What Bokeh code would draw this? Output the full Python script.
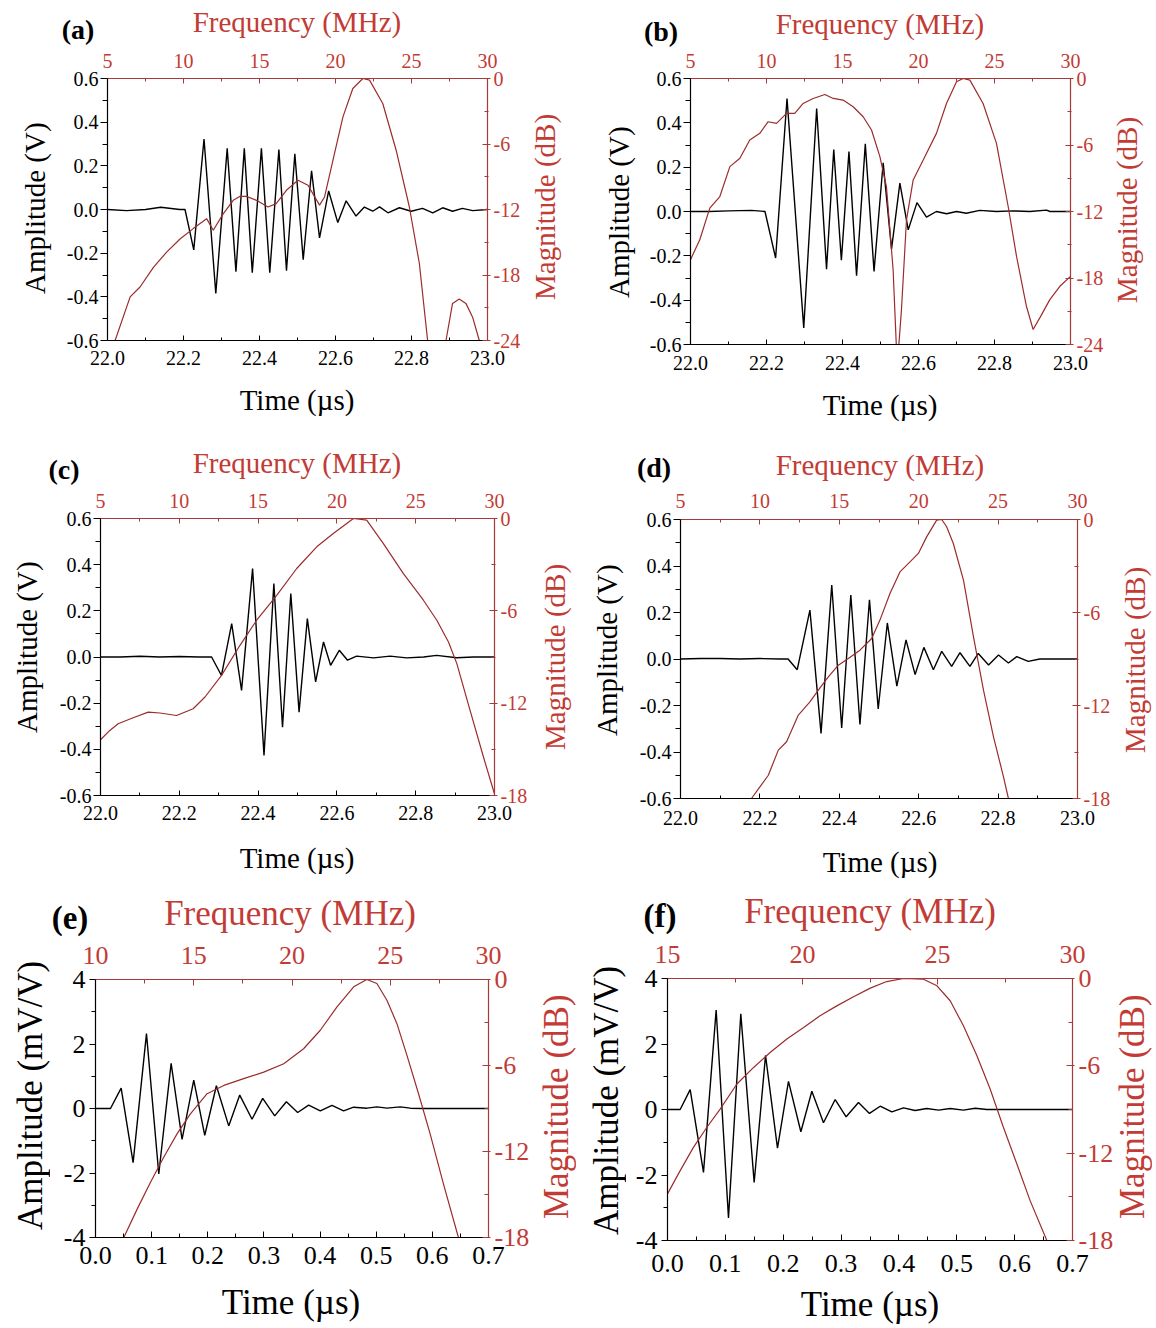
from bokeh.plotting import figure
from bokeh.models import Range1d, LinearAxis, FixedTicker, PrintfTickFormatter, Div, GridBox
from bokeh.layouts import column, row
from bokeh.embed import file_html
from bokeh.resources import INLINE

FONT = "Liberation Serif"
RED_TXT = "#c23b35"
RED_AX = "#a63a3a"
RED_LN = "#9b2c2c"

# ---------------- tick values ----------------
t_ticks_us = [22.0, 22.2, 22.4, 22.6, 22.8, 23.0]
t_minor_us = [22.1, 22.3, 22.5, 22.7, 22.9]
amp_ticks_v = [-0.6, -0.4, -0.2, 0.0, 0.2, 0.4, 0.6]
amp_minor_v = [-0.5, -0.3, -0.1, 0.1, 0.3, 0.5]
f_ticks_5_30 = [5, 10, 15, 20, 25, 30]
f_minor_5_30 = [7.5, 12.5, 17.5, 22.5, 27.5]
f_ticks_10_30 = [10, 15, 20, 25, 30]
f_minor_10_30 = [12.5, 17.5, 22.5, 27.5]
f_ticks_15_30 = [15, 20, 25, 30]
f_minor_15_30 = [17.5, 22.5, 27.5]
db_ticks_24 = [-24, -18, -12, -6, 0]
db_minor_24 = [-21, -15, -9, -3]
db_ticks_18 = [-18, -12, -6, 0]
db_minor_18 = [-15, -9, -3]
t_ticks_07 = [0.0, 0.1, 0.2, 0.3, 0.4, 0.5, 0.6, 0.7]
t_minor_07 = [0.05, 0.15, 0.25, 0.35, 0.45, 0.55, 0.65]
amp_ticks_mv = [-4, -2, 0, 2, 4]
amp_minor_mv = [-3, -1, 1, 3]

# ---------------- panel (a) ----------------
a_t = [22.0, 22.05, 22.1, 22.14, 22.19, 22.204, 22.227, 22.254, 22.285, 22.315, 22.338, 22.360,
       22.381, 22.405, 22.427, 22.451, 22.471, 22.493, 22.515, 22.537, 22.558, 22.582, 22.606,
       22.628, 22.654, 22.676, 22.698, 22.716, 22.738, 22.768, 22.799, 22.829, 22.856, 22.882,
       22.908, 22.934, 22.961, 23.0]
a_v = [0.0, -0.005, 0.0, 0.01, 0.0, 0.0, -0.185, 0.323, -0.385, 0.28, -0.285, 0.28,
       -0.29, 0.28, -0.29, 0.275, -0.28, 0.255, -0.23, 0.177, -0.13, 0.085, -0.06,
       0.04, -0.03, 0.011, -0.008, 0.012, -0.015, 0.008, -0.008, 0.005, -0.015, 0.008,
       -0.008, 0.005, -0.005, 0.0]
a_f = [5.5, 6.49, 7.14, 8.02, 8.89, 9.77, 10.64, 11.52, 11.96, 12.61, 13.27, 13.7, 14.14, 14.8,
       15.56, 16.1, 16.77, 17.53, 18.19, 18.95, 19.28, 19.83, 20.49, 21.14, 21.8, 22.24, 23.11,
       23.99, 24.86, 25.52, 26.06, 26.6, 27.27, 27.7, 28.14, 28.58, 29.02, 29.46]
a_db = [-24, -20.0, -19.1, -17.3, -15.9, -14.7, -13.75, -12.84, -13.9, -12.4, -11.16, -10.8, -10.8,
        -11.16, -11.77, -11.46, -10.24, -9.32, -9.78, -11.6, -10.85, -7.49, -3.52, -0.92, 0.0,
        -0.15, -2.29, -6.57, -11.77, -16.97, -24, -40, -24, -20.6, -20.2, -20.6, -21.86, -24]

# ---------------- panel (b) ----------------
b_t = [22.0, 22.05, 22.1, 22.16, 22.196, 22.224, 22.254, 22.298, 22.332, 22.358, 22.377, 22.397,
       22.417, 22.437, 22.46, 22.483, 22.507, 22.529, 22.551, 22.573, 22.596, 22.621, 22.647,
       22.674, 22.7, 22.726, 22.761, 22.805, 22.849, 22.893, 22.937, 22.946, 23.0]
b_v = [0.0, 0.0, 0.003, 0.005, 0.0, -0.21, 0.51, -0.525, 0.465, -0.26, 0.28, -0.22,
       0.27, -0.29, 0.305, -0.27, 0.22, -0.17, 0.128, -0.083, 0.04, -0.025, 0.0,
       -0.01, 0.0, -0.008, 0.005, 0.0, 0.003, 0.0, 0.006, 0.0, 0.0]
b_f = [5.0, 5.61, 6.27, 6.93, 7.59, 8.25, 8.9, 9.56, 10.11, 10.66, 11.32, 11.86, 12.41, 13.07,
       13.84, 14.39, 15.04, 15.7, 16.36, 16.91, 17.46, 17.89, 18.33, 18.6, 18.88, 19.21, 19.65,
       20.31, 21.18, 21.84, 22.5, 22.94, 23.38, 24.25, 25.13, 25.9, 26.45, 27.1, 27.54, 27.98,
       28.64, 29.3, 30.0]
b_db = [-16.35, -14.55, -11.7, -10.65, -7.95, -7.2, -5.55, -4.95, -3.9, -4.05, -3.15, -3.15,
        -2.25, -1.8, -1.44, -1.8, -1.95, -2.55, -3.45, -4.65, -7.05, -9.75, -17.25, -26.0,
        -20.85, -12.75, -9.15, -7.35, -4.95, -2.25, -0.3, 0.0, -0.15, -2.25, -5.85, -11.55,
        -16.05, -20.55, -22.65, -21.6, -19.95, -18.75, -17.85]

# ---------------- panel (c) ----------------
c_t = [22.0, 22.05, 22.1, 22.15, 22.2, 22.25, 22.282, 22.307, 22.333, 22.358, 22.386, 22.415,
       22.44, 22.462, 22.483, 22.504, 22.525, 22.546, 22.566, 22.584, 22.606, 22.627, 22.65,
       22.693, 22.735, 22.777, 22.82, 22.853, 22.904, 22.947, 23.0]
c_v = [0.0, 0.0, 0.003, 0.0, 0.002, 0.0, 0.0, -0.08, 0.145, -0.145, 0.383, -0.426,
       0.318, -0.304, 0.275, -0.239, 0.166, -0.108, 0.065, -0.036, 0.029, -0.014, 0.004,
       -0.004, 0.004, -0.004, 0.0, 0.007, -0.003, 0.0, 0.0]
c_f = [5.0, 5.59, 6.12, 7.07, 8.03, 8.77, 9.83, 10.88, 11.63, 12.68, 13.85, 14.91, 16.18, 17.45,
       18.72, 19.77, 21.05, 21.89, 22.95, 24.22, 25.49, 26.34, 27.08, 27.61, 28.45, 29.3, 30.0]
c_db = [-14.38, -13.77, -13.34, -12.95, -12.58, -12.64, -12.8, -12.36, -11.6, -10.19, -8.24,
        -6.61, -4.99, -3.25, -1.84, -0.98, 0.0, -0.11, -1.63, -3.58, -5.31, -6.61, -8.02,
        -9.43, -12.47, -15.5, -17.9]

# ---------------- panel (d) ----------------
d_t = [22.0, 22.05, 22.1, 22.15, 22.2, 22.25, 22.271, 22.294, 22.326, 22.354, 22.381, 22.406,
       22.429, 22.452, 22.476, 22.498, 22.521, 22.545, 22.568, 22.591, 22.613, 22.637, 22.658,
       22.683, 22.704, 22.729, 22.75, 22.776, 22.801, 22.826, 22.847, 22.876, 22.905, 22.948, 23.0]
d_v = [0.0, 0.002, 0.002, 0.0, 0.002, 0.0, 0.0, -0.046, 0.21, -0.32, 0.318, -0.297,
       0.275, -0.282, 0.255, -0.215, 0.155, -0.117, 0.082, -0.067, 0.05, -0.046, 0.033,
       -0.032, 0.027, -0.032, 0.024, -0.026, 0.017, -0.017, 0.01, -0.01, 0.0, 0.0, 0.0]
d_f = [9.47, 10.0, 10.53, 11.16, 11.68, 12.42, 13.15, 13.68, 14.31, 14.94, 15.57, 16.3, 17.04,
       17.56, 18.19, 18.82, 19.45, 19.98, 20.5, 21.13, 21.45, 21.76, 22.18, 22.82, 23.45, 24.08,
       24.71, 25.34, 25.65]
d_db = [-18, -17.25, -16.5, -14.88, -14.34, -12.62, -11.76, -11.01, -10.15, -9.4, -8.97, -8.43,
        -7.68, -6.49, -4.77, -3.38, -2.73, -2.19, -1.12, -0.04, 0.0, -0.47, -1.55, -3.91, -7.57,
        -11.01, -14.02, -16.6, -18]

# ---------------- panel (e) ----------------
e_t = [0.0, 0.0267, 0.0457, 0.067, 0.0908, 0.1127, 0.1347, 0.1542, 0.175, 0.1946, 0.2153,
       0.2373, 0.2569, 0.2788, 0.2978, 0.3192, 0.34, 0.3601, 0.3797, 0.4004, 0.4212, 0.4419,
       0.4597, 0.4835, 0.5013, 0.519, 0.5428, 0.5606, 0.584, 0.7]
e_v = [0.0, 0.0, 0.634, -1.68, 2.32, -2.03, 1.4, -0.956, 0.883, -0.83, 0.706, -0.54, 0.416,
       -0.332, 0.312, -0.229, 0.208, -0.125, 0.104, -0.073, 0.094, -0.073, 0.04, 0.01, 0.05,
       0.01, 0.05, 0.01, 0.0, 0.0]
e_f = [11.44, 12.12, 12.8, 13.47, 14.15, 14.83, 15.68, 16.53, 17.54, 18.56, 19.58, 20.59, 21.44,
       22.29, 23.14, 23.81, 24.32, 24.83, 25.34, 25.85, 26.44, 27.03, 27.71, 28.47]
e_db = [-18, -16.02, -14.15, -12.4, -10.77, -9.37, -7.97, -7.39, -6.92, -6.46, -5.88, -4.83,
        -3.54, -1.91, -0.51, 0.0, -0.28, -1.45, -3.08, -5.29, -7.97, -10.77, -14.27, -18]

# ---------------- panel (f) ----------------
f_t = [0.0, 0.0219, 0.0392, 0.0622, 0.0841, 0.1054, 0.1267, 0.1498, 0.1694, 0.1901, 0.2091,
       0.2305, 0.2495, 0.2696, 0.2898, 0.3088, 0.3301, 0.3491, 0.3676, 0.3877, 0.4079, 0.428,
       0.4482, 0.4684, 0.4885, 0.5116, 0.5318, 0.5519, 0.7]
f_v = [0.0, 0.0, 0.608, -1.92, 3.04, -3.31, 2.92, -2.23, 1.65, -1.18, 0.86, -0.68, 0.557,
       -0.405, 0.304, -0.223, 0.213, -0.12, 0.1, -0.07, 0.05, -0.03, 0.03, -0.02, 0.03, -0.02,
       0.04, 0.0, 0.0]
f_f = [15.0, 15.47, 15.96, 16.46, 16.95, 17.57, 18.19, 18.8, 19.42, 20.04, 20.65, 21.27, 21.89,
       22.51, 23.12, 23.74, 24.48, 24.98, 25.47, 25.96, 26.46, 26.95, 27.44, 27.94, 28.43, 29.05]
f_db = [-14.8, -13.2, -11.6, -10.22, -8.97, -7.25, -6.11, -5.08, -4.16, -3.36, -2.56, -1.88,
        -1.26, -0.66, -0.21, 0.0, -0.05, -0.5, -1.53, -3.25, -5.31, -7.59, -10.22, -12.74,
        -15.26, -18.0]


def style_axis(ax, ticks, minor, fmt, line_color, text_color, tick_fs, tin, tout, lstand):
    ax.ticker = FixedTicker(ticks=ticks, minor_ticks=minor)
    ax.formatter = PrintfTickFormatter(format=fmt)
    ax.axis_line_color = line_color
    ax.axis_line_width = 1.2
    ax.major_tick_line_color = line_color
    ax.minor_tick_line_color = line_color
    ax.major_tick_in = tin
    ax.major_tick_out = tout
    ax.minor_tick_in = max(tin - 2, 0)
    ax.minor_tick_out = max(tout - 2, 0)
    ax.major_label_text_color = text_color
    ax.major_label_text_font = FONT
    ax.major_label_text_font_size = f"{tick_fs}px"
    ax.major_label_standoff = lstand
    ax.axis_label = None


def make_panel(t, v, fr, db, cfg):
    p = figure(frame_width=cfg["fw"], frame_height=cfg["fh"],
               x_range=Range1d(*cfg["xr"]), y_range=Range1d(*cfg["yr"]),
               output_backend="svg", toolbar_location=None)
    L, R, T, B = cfg["mb"]
    p.min_border_left = L
    p.min_border_right = R
    p.min_border_top = T
    p.min_border_bottom = B
    p.outline_line_color = None
    p.xgrid.visible = False
    p.ygrid.visible = False
    p.background_fill_color = "white"
    p.border_fill_color = "white"
    p.extra_x_ranges = {"freq": Range1d(*cfg["frr"])}
    p.extra_y_ranges = {"db": Range1d(*cfg["dbr"])}
    top_ax = LinearAxis(x_range_name="freq")
    right_ax = LinearAxis(y_range_name="db")
    p.add_layout(top_ax, "above")
    p.add_layout(right_ax, "right")
    bottom_ax = p.below[0]
    left_ax = p.left[0]

    tfs = cfg["tfs"]
    s = cfg["stand"]
    style_axis(bottom_ax, cfg["xt"], cfg["xm"], "%.1f", "black", "black", tfs, *s["b"])
    style_axis(left_ax, cfg["yt"], cfg["ym"], cfg["yfmt"], "black", "black", tfs, *s["l"])
    style_axis(top_ax, cfg["ft"], cfg["fm"], "%d", RED_AX, RED_TXT, tfs, *s["t"])
    style_axis(right_ax, cfg["dt"], cfg["dm"], "%d", RED_AX, RED_TXT, tfs, *s["r"])

    p.line(t, v, line_color="black", line_width=1.4)
    p.line(fr, db, line_color=RED_LN, line_width=1.2, x_range_name="freq", y_range_name="db")
    return p


def hdiv(text, cx, cy, cell, fs, color, bold=False, w=None, h=None):
    w = w or int(fs * 10)
    h = h or int(fs * 1.25)
    left = int(round(cx - w / 2 - cell[0]))
    top = int(round(cy - h / 2 - cell[1]))
    weight = "bold" if bold else "normal"
    html = (f'<div style="width:{w}px;height:{h}px;line-height:{h}px;text-align:center;'
            f"white-space:nowrap;font-family:'{FONT}';font-size:{fs}px;font-weight:{weight};"
            f'color:{color};">{text}</div>')
    return Div(text=html, width=w, height=h, margin=(top, 0, 0, left))


def vdiv(text, cx, cy, cell, fs, color, length):
    w, h = fs + 6, length
    left = int(round(cx - w / 2 - cell[0]))
    top = int(round(cy - h / 2 - cell[1]))
    html = (f'<div style="writing-mode:vertical-rl;transform:rotate(180deg);width:{w}px;'
            f'height:{h}px;line-height:{w}px;text-align:center;white-space:nowrap;'
            f"font-family:'{FONT}';font-size:{fs}px;color:{color};\">{text}</div>")
    return Div(text=html, width=w, height=h, margin=(top, 0, 0, left))


# (tick_in, tick_out, label_standoff) per side
stand_a = {"l": (0, 7, 2), "b": (5, 0, 10), "t": (5, 0, 11), "r": (5, 3, 3)}
stand_b = {"l": (0, 7, 2), "b": (5, 0, 11), "t": (5, 0, 11), "r": (5, 3, 3)}
stand_c = {"l": (0, 7, 2), "b": (5, 0, 10), "t": (5, 0, 11), "r": (5, 3, 3)}
stand_d = {"l": (0, 7, 2), "b": (5, 0, 12), "t": (5, 0, 12), "r": (5, 3, 3)}
stand_e = {"l": (0, 6, 4), "b": (6, 0, 9), "t": (6, 0, 16), "r": (6, 2, 4)}
stand_f = {"l": (0, 6, 4), "b": (6, 0, 14), "t": (6, 0, 16), "r": (6, 2, 4)}

common_small = dict(xr=(22.0, 23.0), yr=(-0.6, 0.6), xt=t_ticks_us, xm=t_minor_us,
                    yt=amp_ticks_v, ym=amp_minor_v, yfmt="%.1f",
                    frr=(5, 30), ft=f_ticks_5_30, fm=f_minor_5_30, tfs=20)
common_big = dict(xr=(0.0, 0.7), yr=(-4, 4), xt=t_ticks_07, xm=t_minor_07,
                  yt=amp_ticks_mv, ym=amp_minor_mv, yfmt="%d", tfs=26)

cfg_a = dict(common_small, fw=380, fh=262, mb=(99, 93, 70, 90), dbr=(-24, 0),
             dt=db_ticks_24, dm=db_minor_24, stand=stand_a)
cfg_b = dict(common_small, fw=380, fh=266, mb=(110, 78, 70, 86), dbr=(-24, 0),
             dt=db_ticks_24, dm=db_minor_24, stand=stand_b)
cfg_c = dict(common_small, fw=394, fh=277, mb=(92, 86, 88, 85), dbr=(-18, 0),
             dt=db_ticks_18, dm=db_minor_18, stand=stand_c)
cfg_d = dict(common_small, fw=397, fh=279, mb=(100, 71, 89, 82), dbr=(-18, 0),
             dt=db_ticks_18, dm=db_minor_18, stand=stand_d)
cfg_e = dict(common_big, fw=393, fh=258, mb=(87, 92, 99, 89), frr=(10, 30), ft=f_ticks_10_30,
             fm=f_minor_10_30, dbr=(-18, 0), dt=db_ticks_18, dm=db_minor_18, stand=stand_e)
cfg_f = dict(common_big, fw=405, fh=262, mb=(87, 76, 98, 86), frr=(15, 30), ft=f_ticks_15_30,
             fm=f_minor_15_30, dbr=(-18, 0), dt=db_ticks_18, dm=db_minor_18, stand=stand_f)

pa = make_panel(a_t, a_v, a_f, a_db, cfg_a)
pb = make_panel(b_t, b_v, b_f, b_db, cfg_b)
pc = make_panel(c_t, c_v, c_f, c_db, cfg_c)
pd = make_panel(d_t, d_v, d_f, d_db, cfg_d)
pe = make_panel(e_t, e_v, e_f, e_db, cfg_e)
pf = make_panel(f_t, f_v, f_f, f_db, cfg_f)

# panel origins in page coordinates (the layout has an 8px margin)
# label texts and their centres: tag, frequency, time, amplitude, magnitude
panels = [
    (pa, (8, 8), "(a)", (78, 30), (297, 22), (297, 400), "Amplitude (V)", (36, 208), (545, 207), 28, 29),
    (pb, (580, 8), "(b)", (661, 31), (880, 24), (880, 405), "Amplitude (V)", (619, 212), (1127, 210), 28, 29),
    (pc, (8, 430), "(c)", (64, 470), (297, 463), (297, 858), "Amplitude (V)", (28, 647), (555, 657), 28, 29),
    (pd, (580, 430), "(d)", (654, 468), (880, 465), (880, 862), "Amplitude (V)", (608, 650), (1136, 660), 28, 29),
    (pe, (8, 880), "(e)", (70, 918), (290, 914), (291, 1303), "Amplitude (mV/V)", (30, 1095), (557, 1107), 33, 35),
    (pf, (580, 880), "(f)", (660, 916), (870, 911), (870, 1305), "Amplitude (mV/V)", (607, 1100), (1133, 1107), 33, 35),
]

boxes = []
for p, cell, tag, tag_c, fq_c, tm_c, amp_text, amp_c, mag_c, tag_fs, lab_fs in panels:
    big = lab_fs > 30
    kids = [
        (p, 0, 0),
        (hdiv(tag, tag_c[0], tag_c[1], cell, tag_fs, "#000", bold=True, w=80), 0, 0),
        (hdiv("Frequency (MHz)", fq_c[0], fq_c[1], cell, lab_fs, RED_TXT, w=330), 0, 0),
        (hdiv("Time (\u00b5s)", tm_c[0], tm_c[1], cell, lab_fs, "#000", w=220,
              h=40 if big else 36), 0, 0),
        (vdiv(amp_text, amp_c[0], amp_c[1], cell, lab_fs, "#000", 310 if big else 240), 0, 0),
        (vdiv("Magnitude (dB)", mag_c[0], mag_c[1], cell, lab_fs, RED_TXT,
              280 if big else 230), 0, 0),
    ]
    boxes.append(GridBox(children=kids))

layout = column(row(boxes[0], boxes[1]), row(boxes[2], boxes[3]), row(boxes[4], boxes[5]),
                margin=(8, 0, 0, 8))
open("out.html", "w").write(file_html(layout, INLINE))
